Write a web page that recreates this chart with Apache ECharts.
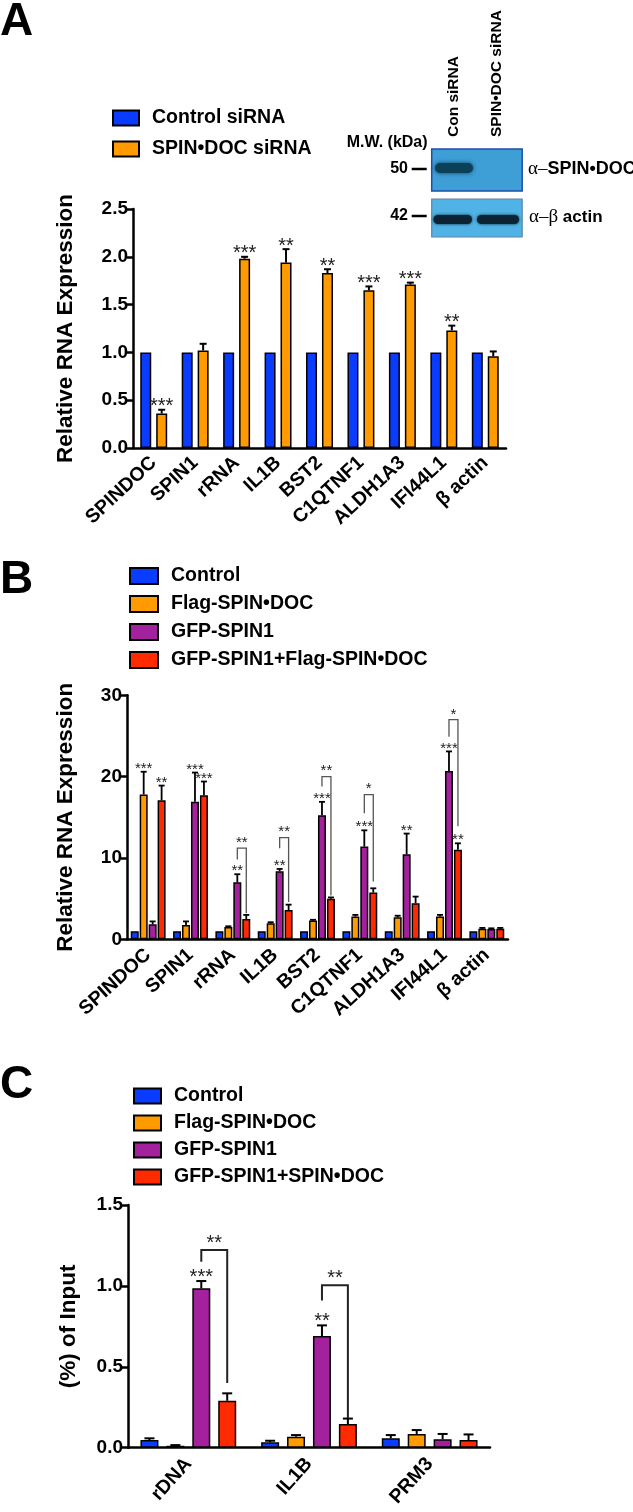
<!DOCTYPE html>
<html><head><meta charset="utf-8">
<script src="https://cdn.jsdelivr.net/npm/echarts@6/dist/echarts.min.js"></script>
<style>html,body{margin:0;padding:0;background:#fff}#c{width:633px;height:1512px}</style>
</head><body><div id="c"></div>
<script>
// ---------- DATA ----------
const catsA = ['SPINDOC','SPIN1','rRNA','IL1B','BST2','C1QTNF1','ALDH1A3','IFI44L1','β actin'];
const seriesNamesA = ['Control siRNA','SPIN•DOC siRNA'];
const ctrlA = [1,1,1,1,1,1,1,1,1];
const spinA = [0.36,1.02,1.98,1.94,1.83,1.65,1.71,1.23,0.96];
const spinAErrTop = [0.40,1.09,2.00,2.08,1.87,1.69,1.73,1.28,1.01];
const starsA = ['***','','***','**','**','***','***','**',''];
const yTicksA = ['0.0','0.5','1.0','1.5','2.0','2.5'];

const catsB = ['SPINDOC','SPIN1','rRNA','IL1B','BST2','C1QTNF1','ALDH1A3','IFI44L1','β actin'];
const seriesNamesB = ['Control','Flag-SPIN•DOC','GFP-SPIN1','GFP-SPIN1+Flag-SPIN•DOC'];
const ctrlB = [1,1,1,1,1,1,1,1,1];
const ctrlBErrTop = [1,1,1,1,1,1,1,1,1];
const flagB = [17.8,1.76,1.5,1.97,2.3,2.8,2.7,2.8,1.3];
const flagBErrTop = [20.6,2.2,1.6,2.1,2.4,3.0,2.9,3.0,1.4];
const gfpB = [1.84,16.9,7.0,8.36,15.25,11.4,10.45,20.7,1.27];
const gfpBErrTop = [2.2,20.5,8.0,8.65,16.9,13.4,13.0,23.1,1.35];
const bothB = [17.1,17.7,2.5,3.6,5.0,5.74,4.43,11.0,1.3];
const bothBErrTop = [18.9,19.4,3.0,4.26,5.15,6.27,5.25,11.8,1.4];
const starsFlagB = ['***','','','','','','','',''];
const starsGfpB = ['','***','**','**','***','***','**','***',''];
const starsBothB = ['**','***','','','','','','**',''];
// [category, leftSeries, rightSeries, topValue, leftLegBottom, rightLegBottom, label]
const bracketsB = [
  [2,2,3,11.2,9.8,3.2,'**'],
  [3,2,3,12.5,11.2,4.6,'**'],
  [4,2,3,20.0,18.8,5.4,'**'],
  [5,2,3,17.8,15.5,7.1,'*'],
  [7,2,3,27.0,24.9,13.9,'*']
];
const yTicksB = ['0','10','20','30'];

const catsC = ['rDNA','IL1B','PRM3'];
const seriesNamesC = ['Control','Flag-SPIN•DOC','GFP-SPIN1','GFP-SPIN1+SPIN•DOC'];
const ctrlC = [0.047,0.033,0.058];
const ctrlCErrTop = [0.058,0.043,0.078];
const flagC = [0.012,0.068,0.085];
const flagCErrTop = [0.016,0.078,0.109];
const gfpC = [0.985,0.69,0.052];
const gfpCErrTop = [1.03,0.756,0.085];
const bothC = [0.29,0.146,0.047];
const bothCErrTop = [0.336,0.18,0.082];
const starsGfpC = ['***','**',''];
const bracketsC = [
  [0,2,3,1.222,1.15,0.40,'**'],
  [1,2,3,1.004,0.91,0.183,'**']
];
const yTicksC = ['0.0','0.5','1.0','1.5'];

// ---------- STYLE ----------
const FONT = '"Liberation Sans", Arial, Helvetica, sans-serif';
const COLORS = {blue:'#0a3cff', orange:'#ff9a00', purple:'#a3219c', red:'#ff2a00'};
const colorsA = [COLORS.blue, COLORS.orange];
const colorsBC = [COLORS.blue, COLORS.orange, COLORS.purple, COLORS.red];

const LAYOUT = {
  A:{left:133, top:209, width:373, height:239, barW:11, gap:0.45, n:2},
  B:{left:127, top:695.3, width:381, height:244, barW:8, gap:0.12, n:4},
  C:{left:128, top:1205, width:362, height:242.7, barW:18, gap:0.44, n:4}
};

function groupOffset(n, w, gapPct, i){
  const g = w*gapPct; const total = n*w + (n-1)*g;
  return -total/2 + w/2 + i*(w+g);
}

function barSeries(name, gi, data, color, L){
  return {type:'bar', name, xAxisIndex:gi, yAxisIndex:gi, data,
    barWidth:L.barW, barGap:(L.gap*100)+'%',
    itemStyle:{color, borderColor:'#000', borderWidth:1.5}, z:3};
}

function errItems(list){
  const items = [];
  list.forEach((pair, s) => {
    if(!pair) return;
    pair[0].forEach((v, c) => { if(pair[1][c] > v) items.push([c, s, v, pair[1][c]]); });
  });
  return items;
}

function errSeries(gi, L, items, capW, lw){
  return {type:'custom', xAxisIndex:gi, yAxisIndex:gi, silent:true, z:4,
    data: items.map(it => [it[0], it[2], it[3]]),
    encode:{x:0, y:[1,2]},
    renderItem:(params, api) => {
      const it = items[params.dataIndex];
      const off = groupOffset(L.n, L.barW, L.gap, it[1]);
      const p0 = api.coord([it[0], it[2]]), p1 = api.coord([it[0], it[3]]);
      const x = p0[0] + off;
      return {type:'group', children:[
        {type:'line', shape:{x1:x, y1:p0[1], x2:x, y2:p1[1]}, style:{stroke:'#000', lineWidth:lw}},
        {type:'line', shape:{x1:x-capW/2, y1:p1[1], x2:x+capW/2, y2:p1[1]}, style:{stroke:'#000', lineWidth:lw}}
      ]};
    }};
}

function starItems(list){
  const items = [];
  list.forEach((pair, s) => {
    if(!pair) return;
    pair[0].forEach((lab, c) => { if(lab) items.push([c, s, pair[1][c], lab]); });
  });
  return items;
}

function starSeries(gi, L, items, fontSize, lift){
  return {type:'custom', xAxisIndex:gi, yAxisIndex:gi, silent:true, z:6,
    data: items.map(it => [it[0], it[2]]),
    encode:{x:0, y:1},
    renderItem:(params, api) => {
      const it = items[params.dataIndex];
      const off = groupOffset(L.n, L.barW, L.gap, it[1]);
      const p = api.coord([it[0], it[2]]);
      return {type:'text', style:{text:it[3], x:p[0]+off, y:p[1]-lift, align:'center', verticalAlign:'middle',
        font:'normal '+fontSize+'px '+FONT, fill:'#222'}};
    }};
}

function bracketSeries(gi, L, items, fontSize, lw, color){
  return {type:'custom', xAxisIndex:gi, yAxisIndex:gi, silent:true, z:6,
    data: items.map(it => [it[0], it[3]]),
    encode:{x:0, y:1},
    renderItem:(params, api) => {
      const it = items[params.dataIndex];
      const xl = api.coord([it[0], 0])[0] + groupOffset(L.n, L.barW, L.gap, it[1]);
      const xr = api.coord([it[0], 0])[0] + groupOffset(L.n, L.barW, L.gap, it[2]);
      const yt = api.coord([it[0], it[3]])[1];
      const yl = api.coord([it[0], it[4]])[1];
      const yr = api.coord([it[0], it[5]])[1];
      return {type:'group', children:[
        {type:'polyline', shape:{points:[[xl,yl],[xl,yt],[xr,yt],[xr,yr]]}, style:{stroke:color, lineWidth:lw, fill:null}},
        {type:'text', style:{text:it[6], x:(xl+xr)/2, y:yt-fontSize*0.22-2, align:'center', verticalAlign:'middle',
          font:'normal '+fontSize+'px '+FONT, fill:'#222'}}
      ]};
    }};
}

function xAxisCfg(gi, cats, rot, fs, margin){
  return {type:'category', gridIndex:gi, data:cats,
    axisLine:{lineStyle:{color:'#000', width:2.5}},
    axisTick:{alignWithLabel:true, length:7, lineStyle:{color:'#000', width:2.5}},
    axisLabel:{rotate:rot, interval:0, margin, color:'#000', fontWeight:'bold', fontSize:fs, fontFamily:FONT}};
}
function yAxisCfg(gi, max, interval, ticks, name, gap){
  return {type:'value', gridIndex:gi, min:0, max, interval,
    name, nameLocation:'middle', nameGap:gap,
    nameTextStyle:{color:'#000', fontWeight:'bold', fontSize:22.5, fontFamily:FONT},
    splitLine:{show:false},
    axisLine:{show:true, lineStyle:{color:'#000', width:2.5}},
    axisTick:{show:true, length:6, lineStyle:{color:'#000', width:2.5}},
    axisLabel:{color:'#000', fontWeight:'bold', fontSize:19, fontFamily:FONT, margin:5,
      formatter:(v) => ticks[Math.round(v/interval)]}};
}

function legendCfg(names, left, top, gap, fs, iw, ih){
  return {data:names, orient:'vertical', left, top, itemGap:gap, itemWidth:iw, itemHeight:ih,
    icon:'rect', selectedMode:false,
    textStyle:{color:'#000', fontWeight:'bold', fontSize:fs, fontFamily:FONT, lineHeight:20, padding:[0,0,0,8]}};
}

// ---------- BUILD ----------
const LA = LAYOUT.A, LB = LAYOUT.B, LC = LAYOUT.C;
const series = [
  barSeries(seriesNamesA[0], 0, ctrlA, colorsA[0], LA),
  barSeries(seriesNamesA[1], 0, spinA, colorsA[1], LA),
  errSeries(0, LA, errItems([null, [spinA, spinAErrTop]]), 7, 2),
  starSeries(0, LA, starItems([null, [starsA, spinAErrTop]]), 20, 3),

  barSeries(seriesNamesB[0], 1, ctrlB, colorsBC[0], LB),
  barSeries(seriesNamesB[1], 1, flagB, colorsBC[1], LB),
  barSeries(seriesNamesB[2], 1, gfpB, colorsBC[2], LB),
  barSeries(seriesNamesB[3], 1, bothB, colorsBC[3], LB),
  errSeries(1, LB, errItems([[ctrlB, ctrlBErrTop],[flagB, flagBErrTop],[gfpB, gfpBErrTop],[bothB, bothBErrTop]]), 6, 1.8),
  starSeries(1, LB, starItems([null, [starsFlagB, flagBErrTop],[starsGfpB, gfpBErrTop],[starsBothB, bothBErrTop]]), 15, 3),
  bracketSeries(1, LB, bracketsB, 15, 1.3, '#555'),

  barSeries(seriesNamesC[0], 2, ctrlC, colorsBC[0], LC),
  barSeries(seriesNamesC[1], 2, flagC, colorsBC[1], LC),
  barSeries(seriesNamesC[2], 2, gfpC, colorsBC[2], LC),
  barSeries(seriesNamesC[3], 2, bothC, colorsBC[3], LC),
  errSeries(2, LC, errItems([[ctrlC, ctrlCErrTop],[flagC, flagCErrTop],[gfpC, gfpCErrTop],[bothC, bothCErrTop]]), 10, 2),
  starSeries(2, LC, starItems([null, null, [starsGfpC, gfpCErrTop]]), 20, 4),
  bracketSeries(2, LC, bracketsC, 20, 2, '#222')
];

const blot = [
  {type:'rect', shape:{x:431.7, y:149, width:90.5, height:42}, style:{fill:'#3d9fd6', stroke:'#1d4fa8', lineWidth:1.5}},
  {type:'rect', shape:{x:435, y:163, width:38, height:10, r:5}, style:{fill:'#0c3f58', shadowBlur:4, shadowColor:'#0c3f58'}},
  {type:'rect', shape:{x:431.7, y:199, width:90.5, height:38}, style:{fill:'#50b2e5', stroke:'#5f86a6', lineWidth:1.2}},
  {type:'rect', shape:{x:433.5, y:215, width:38.5, height:9, r:4.5}, style:{fill:'#0a2433', shadowBlur:3, shadowColor:'#0a2433'}},
  {type:'rect', shape:{x:477, y:215, width:42, height:9, r:4.5}, style:{fill:'#0a2433', shadowBlur:3, shadowColor:'#0a2433'}},
  {type:'line', shape:{x1:411.7, y1:169, x2:426.7, y2:169}, style:{stroke:'#000', lineWidth:2.5}},
  {type:'line', shape:{x1:411.7, y1:216, x2:426.7, y2:216}, style:{stroke:'#000', lineWidth:2.5}},
  {type:'text', x:408, y:169, style:{text:'50', font:'bold 16px '+FONT, fill:'#000', align:'right', verticalAlign:'middle'}},
  {type:'text', x:408, y:216, style:{text:'42', font:'bold 16px '+FONT, fill:'#000', align:'right', verticalAlign:'middle'}},
  {type:'text', x:346.7, y:143, style:{text:'M.W. (kDa)', font:'bold 16px '+FONT, fill:'#000', align:'left', verticalAlign:'middle'}},
  {type:'text', x:528, y:169, style:{text:'{g|α–}{b|SPIN•DOC}', fill:'#000', align:'left', verticalAlign:'middle',
     rich:{g:{font:'19px "Liberation Serif", "DejaVu Serif", serif', fill:'#000'}, b:{font:'bold 18px '+FONT, fill:'#000'}}}},
  {type:'text', x:529, y:217, style:{text:'{g|α–β }{b|actin}', fill:'#000', align:'left', verticalAlign:'middle',
     rich:{g:{font:'19px "Liberation Serif", "DejaVu Serif", serif', fill:'#000'}, b:{font:'bold 17px '+FONT, fill:'#000'}}}},
  {type:'text', x:454, y:137, rotation:Math.PI/2, style:{text:'Con siRNA', font:'bold 15.5px '+FONT, fill:'#000', align:'left', verticalAlign:'middle'}},
  {type:'text', x:497, y:137, rotation:Math.PI/2, style:{text:'SPIN•DOC siRNA', font:'bold 15.5px '+FONT, fill:'#000', align:'left', verticalAlign:'middle'}}
];

const letters = [
  {type:'text', x:0, y:22, style:{text:'A', font:'bold 46px '+FONT, fill:'#000', align:'left', verticalAlign:'middle'}},
  {type:'text', x:0, y:580, style:{text:'B', font:'bold 46px '+FONT, fill:'#000', align:'left', verticalAlign:'middle'}},
  {type:'text', x:0, y:1085, style:{text:'C', font:'bold 46px '+FONT, fill:'#000', align:'left', verticalAlign:'middle'}}
];

const option = {
  animation:false,
  backgroundColor:'#fff',
  textStyle:{fontFamily:FONT},
  grid:[
    {left:LA.left, top:LA.top, width:LA.width, height:LA.height},
    {left:LB.left, top:LB.top, width:LB.width, height:LB.height},
    {left:LC.left, top:LC.top, width:LC.width, height:LC.height}
  ],
  xAxis:[xAxisCfg(0, catsA, 43, 19.5, 12), xAxisCfg(1, catsB, 42, 19.5, 13), xAxisCfg(2, catsC, 48, 19.5, 13)],
  yAxis:[
    yAxisCfg(0, 2.5, 0.5, yTicksA, 'Relative RNA Expression', 56),
    yAxisCfg(1, 30, 10, yTicksB, 'Relative RNA Expression', 50),
    yAxisCfg(2, 1.5, 0.5, yTicksC, '(%) of Input', 48)
  ],
  legend:[
    legendCfg(seriesNamesA, 107, 103, 11, 19.5, 26, 15),
    legendCfg(seriesNamesB, 124, 561, 8, 19.5, 28, 16),
    legendCfg(seriesNamesC, 128, 1081, 7, 19.5, 27, 15)
  ],
  graphic:[].concat(blot, letters),
  series
};

const chart = echarts.init(document.getElementById('c'), null, {renderer:'canvas', width:633, height:1512});
chart.setOption(option);
</script></body></html>
